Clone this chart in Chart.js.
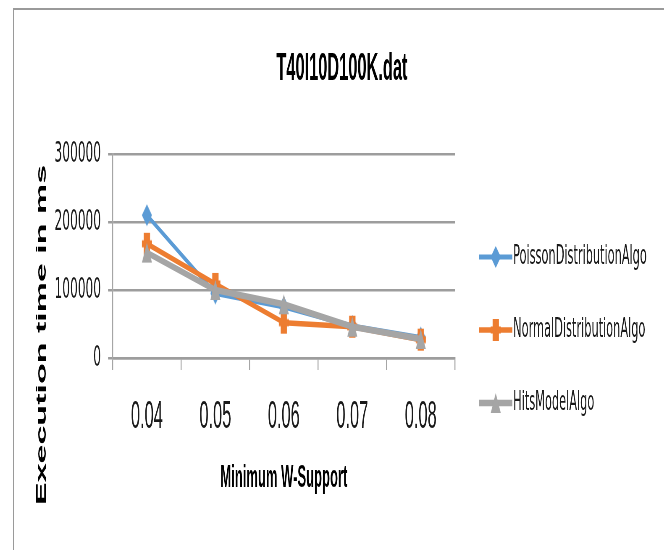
<!DOCTYPE html>
<html>
<head>
<meta charset="utf-8">
<script src="https://cdn.jsdelivr.net/npm/chart.js@4.4.1/dist/chart.umd.min.js"></script>
<style>
  html, body { margin: 0; padding: 0; background: #fff; width: 664px; height: 550px; overflow: hidden; }
  #frame { position: absolute; left: 13px; top: 8px; width: 700px; height: 600px;
           border-top: 2px solid #9a9a9a; border-left: 1px solid #9a9a9a; box-sizing: border-box; }
  /* the chart is laid out wide and compressed horizontally */
  #wrap { position: absolute; left: 0; top: 0; width: 1581px; height: 550px;
          transform: scaleX(0.42); transform-origin: 0 0; }
</style>
</head>
<body>
<div id="frame"></div>
<div id="wrap"><canvas id="c"></canvas></div>
<script>
const chartTitle = 'T40I10D100K.dat';
const xAxisTitle = 'Minimum W-Support';
const yAxisTitle = 'Execution time in ms';
const categories = ['0.04', '0.05', '0.06', '0.07', '0.08'];
const yTickValues = [0, 100000, 200000, 300000];
const seriesNames = ['PoissonDistributionAlgo', 'NormalDistributionAlgo', 'HitsModelAlgo'];
const poissonTimes = [210000, 95000, 75000, 47000, 30000];
const normalTimes = [168000, 109000, 52000, 46000, 27000];
const hitsTimes = [155000, 100000, 79000, 46000, 28000];

const seriesValues = [poissonTimes, normalTimes, hitsTimes];
const seriesStyles = [
  { color: '#5B9BD5', kind: 'diamond',  lw: 5,   order: 3 },
  { color: '#ED7D31', kind: 'plus',     lw: 5.5, order: 2 },
  { color: '#A5A5A5', kind: 'triangle', lw: 6.5, order: 1 }
];

function drawMarker(g, kind, color, cx, cy) {
  g.fillStyle = color;
  g.beginPath();
  if (kind === 'diamond') {
    g.moveTo(cx, cy - 11); g.lineTo(cx + 12, cy); g.lineTo(cx, cy + 11); g.lineTo(cx - 12, cy);
    g.closePath(); g.fill();
  } else if (kind === 'plus') {
    g.fillRect(cx - 7.5, cy - 11, 15, 22);
    g.fillRect(cx - 12, cy - 3.5, 24, 7);
  } else {
    g.moveTo(cx, cy - 10); g.lineTo(cx + 12, cy + 10); g.lineTo(cx - 12, cy + 10);
    g.closePath(); g.fill();
  }
}
function markerImage(st) {
  const c = document.createElement('canvas');
  c.width = 28; c.height = 28;
  drawMarker(c.getContext('2d'), st.kind, st.color, 14, 14);
  return c;
}
function legendImage(st) {
  const c = document.createElement('canvas');
  c.width = 104; c.height = 28;
  const g = c.getContext('2d');
  g.strokeStyle = st.color; g.lineWidth = st.lw;
  g.beginPath(); g.moveTo(24, 14); g.lineTo(103, 14); g.stroke();
  drawMarker(g, st.kind, st.color, 63.5, 14);
  return c;
}
const legendImgs = seriesStyles.map(legendImage);

// rotated value-axis caption, centred on the whole chart height
const yTitlePlugin = {
  id: 'yTitle',
  afterDraw(chart) {
    const g = chart.ctx;
    g.save();
    g.translate(100, 335);
    g.rotate(-Math.PI / 2);
    g.font = 'bold 34px "Liberation Sans", Arial, sans-serif';
    g.fillStyle = '#000';
    g.textAlign = 'center';
    g.textBaseline = 'middle';
    g.fillText(yAxisTitle, 0, 0);
    g.restore();
  }
};

// centre the title over the full frame and let legend labels run past their box
const boxTweaks = {
  id: 'boxTweaks',
  afterLayout(chart) {
    if (chart.legend) chart.legend.right = chart.width;
    if (chart.titleBlock) { chart.titleBlock.left = 14; chart.titleBlock.right = 1614; }
  }
};

new Chart(document.getElementById('c'), {
  type: 'line',
  data: {
    labels: categories,
    datasets: seriesNames.map((name, i) => ({
      label: name,
      data: seriesValues[i],
      borderColor: seriesStyles[i].color,
      backgroundColor: seriesStyles[i].color,
      borderWidth: seriesStyles[i].lw,
      borderJoinStyle: 'round',
      pointStyle: markerImage(seriesStyles[i]),
      pointRadius: 12,
      tension: 0,
      fill: false,
      order: seriesStyles[i].order
    }))
  },
  options: {
    responsive: true,
    maintainAspectRatio: false,
    animation: false,
    layout: { padding: { left: 124.7, right: 178.2, top: 0, bottom: 0 } },
    plugins: {
      title: {
        display: true, text: chartTitle, color: '#000',
        font: { family: '"Liberation Sans", Arial, sans-serif', size: 39, weight: 'bold' },
        padding: { top: 46, bottom: 61.2 }
      },
      legend: {
        position: 'right', align: 'start',
        title: { display: true, text: '', font: { size: 10 }, padding: { top: 185.5, bottom: 0 } },
        labels: {
          usePointStyle: true, pointStyleWidth: 79, padding: 46, color: '#1a1a1a',
          font: { family: '"DejaVu Sans", sans-serif', size: 27 },
          generateLabels(chart) {
            return chart.data.datasets.map((ds, i) => ({
              text: ds.label, fillStyle: ds.borderColor, strokeStyle: ds.borderColor,
              lineWidth: 0, pointStyle: legendImgs[i], hidden: false, datasetIndex: i,
              fontColor: '#1a1a1a'
            }));
          }
        }
      },
      tooltip: { enabled: false }
    },
    scales: {
      x: {
        type: 'category', offset: true,
        grid: { offset: true, drawOnChartArea: false, drawTicks: true, tickLength: 12, color: '#a6a6a6', lineWidth: 2.4 },
        border: { display: true, color: '#9d9d9d', width: 2.5 },
        ticks: { color: '#1a1a1a', padding: 23.6, maxRotation: 0, autoSkip: false,
                 font: { family: '"Liberation Sans", Arial, sans-serif', size: 39 } },
        title: { display: true, text: xAxisTitle, color: '#000',
                 font: { family: '"Liberation Sans", Arial, sans-serif', size: 31, weight: 'bold' },
                 padding: { top: 0, bottom: 53.4 } },
        afterFit(s) { s.height = 192; }
      },
      y: {
        min: 0, max: 300000,
        afterBuildTicks(s) { s.ticks = yTickValues.map(v => ({ value: v })); },
        grid: { color: '#9d9d9d', lineWidth: 2.5, tickLength: 11, drawTicks: true },
        border: { display: true, color: '#a6a6a6', width: 2.4 },
        ticks: { color: '#1a1a1a', padding: 16.8,
                 font: { family: '"DejaVu Sans", sans-serif', size: 29 },
                 callback: v => String(v) },
        afterFit(s) { s.width = 143.6; }
      }
    }
  },
  plugins: [yTitlePlugin, boxTweaks]
});
</script>
</body>
</html>
